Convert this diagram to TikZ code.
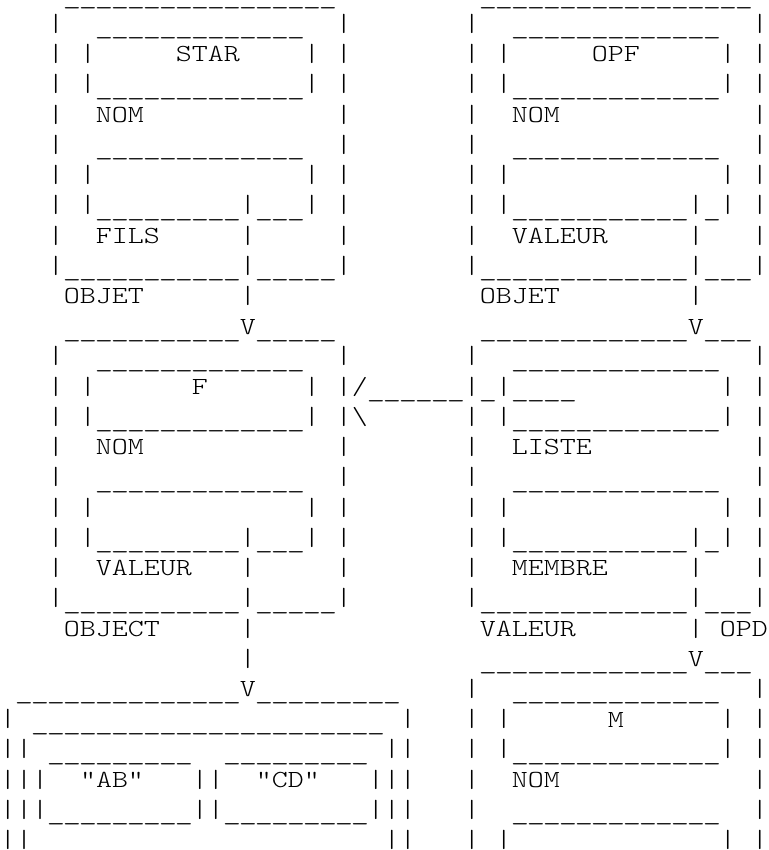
\documentclass[tikz,border=0pt]{standalone}
\usepackage{fontspec}
\usepackage{graphicx}
\newfontfamily\asc{lmmonolt10-regular.otf}
\newcommand\uu{\makebox[\fontcharwd\font`\M][c]{\scalebox{1.14}[1]{\_}}}
\ExplSyntaxOn
\NewDocumentCommand\UL{m}{\raisebox{-2.4pt}{\prg_replicate:nn{#1}{\uu}}}
\ExplSyntaxOff
\newcommand\SP[1]{\hspace*{#1\fontcharwd\font`\M}}
\newcommand\BS{\textbackslash}
\newcommand\B{\raisebox{-1.4pt}{\resizebox{\width}{14.6pt}{\raisebox{\depth}{|}}}}
\begin{document}
\begin{tikzpicture}[x=0.75pt,y=0.75pt,
  rowtext/.style={anchor=base west, inner sep=0pt, outer sep=0pt,
    font=\asc\fontsize{18.4}{22}\selectfont}]
\fill[white] (0,0) rectangle (768,-850);
\useasboundingbox (0,0) rectangle (768,-850);
\newcommand\AR[2]{\node[rowtext] (row#1) at (0,{-(1.5+30.23*#1)}) {\scalebox{1.2422}[1]{#2}};}
\AR{0}{\SP{4}\UL{17}\SP{9}\UL{17}}
\AR{1}{\SP{3}\B\SP{2}\UL{13}\SP{2}\B\SP{7}\B\SP{2}\UL{13}\SP{2}\B}
\AR{2}{\SP{3}\B\SP{1}\B\SP{5}STAR\SP{4}\B\SP{1}\B\SP{7}\B\SP{1}\B\SP{5}OPF\SP{5}\B\SP{1}\B}
\AR{3}{\SP{3}\B\SP{1}\B\UL{13}\B\SP{1}\B\SP{7}\B\SP{1}\B\UL{13}\B\SP{1}\B}
\AR{4}{\SP{3}\B\SP{2}NOM\SP{12}\B\SP{7}\B\SP{2}NOM\SP{12}\B}
\AR{5}{\SP{3}\B\SP{2}\UL{13}\SP{2}\B\SP{7}\B\SP{2}\UL{13}\SP{2}\B}
\AR{6}{\SP{3}\B\SP{1}\B\SP{13}\B\SP{1}\B\SP{7}\B\SP{1}\B\SP{13}\B\SP{1}\B}
\AR{7}{\SP{3}\B\SP{1}\B\UL{9}\B\UL{3}\B\SP{1}\B\SP{7}\B\SP{1}\B\UL{11}\B\UL{1}\B\SP{1}\B}
\AR{8}{\SP{3}\B\SP{2}FILS\SP{5}\B\SP{5}\B\SP{7}\B\SP{2}VALEUR\SP{5}\B\SP{3}\B}
\AR{9}{\SP{3}\B\UL{11}\B\UL{5}\B\SP{7}\B\UL{13}\B\UL{3}\B}
\AR{10}{\SP{4}OBJET\SP{6}\B\SP{14}OBJET\SP{8}\B}
\AR{11}{\SP{4}\UL{11}V\UL{5}\SP{9}\UL{13}V\UL{3}}
\AR{12}{\SP{3}\B\SP{2}\UL{13}\SP{2}\B\SP{7}\B\SP{2}\UL{13}\SP{2}\B}
\AR{13}{\SP{3}\B\SP{1}\B\SP{6}F\SP{6}\B\SP{1}\B/\UL{6}\B\UL{1}\B\UL{4}\SP{9}\B\SP{1}\B}
\AR{14}{\SP{3}\B\SP{1}\B\UL{13}\B\SP{1}\B\BS\SP{6}\B\SP{1}\B\UL{13}\B\SP{1}\B}
\AR{15}{\SP{3}\B\SP{2}NOM\SP{12}\B\SP{7}\B\SP{2}LISTE\SP{10}\B}
\AR{16}{\SP{3}\B\SP{2}\UL{13}\SP{2}\B\SP{7}\B\SP{2}\UL{13}\SP{2}\B}
\AR{17}{\SP{3}\B\SP{1}\B\SP{13}\B\SP{1}\B\SP{7}\B\SP{1}\B\SP{13}\B\SP{1}\B}
\AR{18}{\SP{3}\B\SP{1}\B\UL{9}\B\UL{3}\B\SP{1}\B\SP{7}\B\SP{1}\B\UL{11}\B\UL{1}\B\SP{1}\B}
\AR{19}{\SP{3}\B\SP{2}VALEUR\SP{3}\B\SP{5}\B\SP{7}\B\SP{2}MEMBRE\SP{5}\B\SP{3}\B}
\AR{20}{\SP{3}\B\UL{11}\B\UL{5}\B\SP{7}\B\UL{13}\B\UL{3}\B}
\AR{21}{\SP{4}OBJECT\SP{5}\B\SP{14}VALEUR\SP{7}\B\SP{1}OPD}
\AR{22}{\SP{15}\B\SP{14}\UL{13}V\UL{3}}
\AR{23}{\SP{1}\UL{14}V\UL{9}\SP{4}\B\SP{2}\UL{13}\SP{2}\B}
\AR{24}{\B\SP{1}\UL{22}\SP{1}\B\SP{3}\B\SP{1}\B\SP{6}M\SP{6}\B\SP{1}\B}
\AR{25}{\B\B\SP{1}\UL{9}\SP{2}\UL{9}\SP{1}\B\B\SP{3}\B\SP{1}\B\UL{13}\B\SP{1}\B}
\AR{26}{\B\B\B\SP{2}"AB"\SP{3}\B\B\SP{2}"CD"\SP{3}\B\B\B\SP{3}\B\SP{2}NOM\SP{12}\B}
\AR{27}{\B\B\B\UL{9}\B\B\UL{9}\B\B\B\SP{3}\B\SP{2}\UL{13}\SP{2}\B}
\AR{28}{\B\B\SP{22}\B\B\SP{3}\B\SP{1}\B\SP{13}\B\SP{1}\B}
\end{tikzpicture}
\end{document}
